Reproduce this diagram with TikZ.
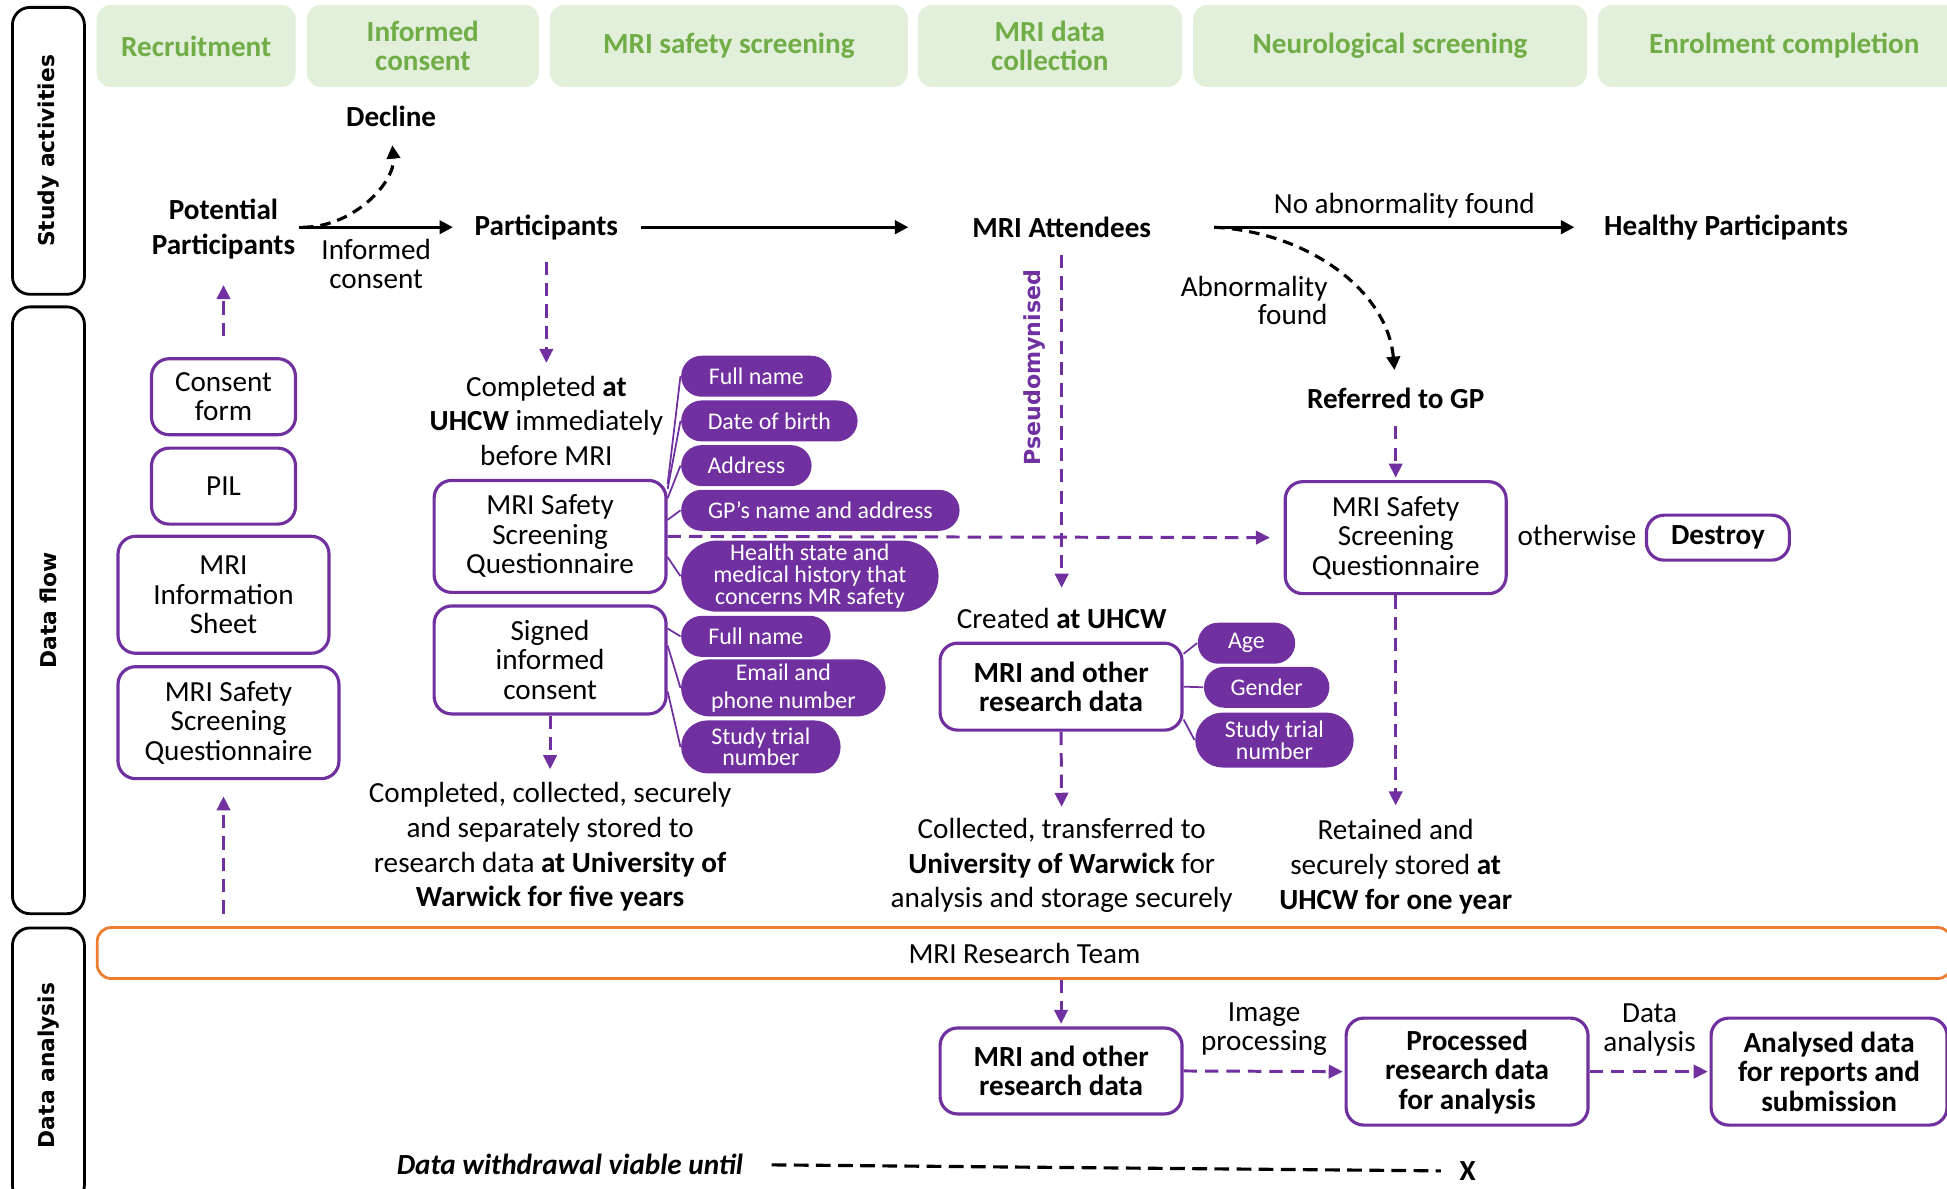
\documentclass[tikz,border=0pt]{standalone}
\usepackage{fontspec}
\setmainfont{Carlito}
\newfontfamily\sidefont{DejaVu Sans}
\usepackage{tikz}
\usetikzlibrary{arrows.meta,positioning,shapes.misc}
\usepackage{xcolor}
\definecolor{mripurple}{HTML}{7030A0}
\definecolor{stagegreen}{HTML}{70AD47}
\definecolor{stagefill}{HTML}{E2EFDA}
\definecolor{teamorange}{HTML}{ED7D31}

\begin{document}
\begin{tikzpicture}[x=0.012417cm, y=-0.012417cm,
    sidebox/.style={draw=black, line width=0.8pt, rounded corners=5pt, rotate=90, minimum height=0.72cm, font=\sidefont\bfseries\fontsize{6.2}{7}\selectfont},
    stagebox/.style={fill=stagefill, rounded corners=4pt, align=center, text=stagegreen, font=\bfseries\fontsize{8.3}{8.2}\selectfont, minimum height=0.82cm},
    stage/.style={align=center, inner sep=1pt, font=\bfseries\fontsize{8.3}{9.9}\selectfont},
    note/.style={align=center, inner sep=1pt, font=\fontsize{8.3}{9.9}\selectfont},
    smallnote/.style={align=center, inner sep=1pt, font=\fontsize{8.3}{8.2}\selectfont},
    docbox/.style={draw=mripurple, line width=0.9pt, rounded corners=5pt, fill=white, align=center, inner sep=1pt, font=\fontsize{8.3}{8.4}\selectfont},
    databox/.style={docbox, font=\bfseries\fontsize{8.3}{8.4}\selectfont},
    pill/.style={rounded rectangle, fill=mripurple, text=white, anchor=west, align=center, inner sep=1pt, minimum height=0.41cm, font=\fontsize{6.8}{6.2}\selectfont},
    teambar/.style={draw=teamorange, line width=0.8pt, rounded corners=4pt, minimum width=18.55cm, minimum height=0.51cm, font=\fontsize{8.3}{9.9}\selectfont},
    flow/.style={-{Triangle[length=3.8pt,width=3.8pt]}, line width=0.9pt, black},
    purplink/.style={draw=mripurple, line width=0.85pt, dash pattern=on 3.8pt off 2.3pt, -{Triangle[length=4pt,width=3.8pt]}},
    pillink/.style={draw=mripurple, line width=0.5pt}
  ]
    \useasboundingbox (0,0) rectangle (1568,957);

    \node[sidebox, minimum width=2.87cm] (sideact) at (39,121.5) {Study activities};
    \node[sidebox, minimum width=6.07cm] (sideflow) at (39,491.5) {Data flow};
    \node[sidebox, minimum width=2.75cm] (sideana) at (39,858) {Data analysis};

    \node[stagebox, minimum width=1.99cm] (recruit) at (158,37) {Recruitment};
    \node[stagebox, minimum width=2.32cm] (consent) at (340.5,37) {Informed\\consent};
    \node[stagebox, minimum width=3.58cm] (safety) at (587,37) {MRI safety screening};
    \node[stagebox, minimum width=2.64cm] (collect) at (845.5,37) {MRI data\\collection};
    \node[stagebox, minimum width=3.94cm] (neuro) at (1119.5,37) {Neurological screening};
    \node[stagebox, minimum width=3.73cm] (enrol) at (1437,37) {Enrolment completion};

    \node[stage] (decline) at (315,94) {Decline};
    \node[stage] (potential) at (180,184.5) {Potential\\Participants};
    \node[stage] (participants) at (440,183) {Participants};
    \node[stage] (attendees) at (855,183) {MRI Attendees};
    \node[stage] (healthy) at (1390,183) {Healthy Participants};
    \node[stage] (referred) at (1124,321) {Referred to GP};
    \node[smallnote, align=right] (abnormal) at (1010,242) {Abnormality\\found};

    \draw[flow, shorten >=5pt] (potential.east |- participants.west) -- node[smallnote, below=2pt, xshift=-2.5pt]{Informed\\consent} (participants.west);
    \draw[flow, shorten <=5.3pt, shorten >=17pt] (participants.east) -- (attendees.west);
    \draw[flow, shorten <=16.8pt, shorten >=7.3pt] (attendees.east) -- node[note, pos=0.56, above=1pt]{No abnormality found} (healthy.west);
    \draw[flow, dash pattern=on 3pt off 2pt, shorten >=4pt] ([xshift=1pt]potential.east |- participants.west) to[out=0, in=-85] (decline.south);
    \draw[flow, dash pattern=on 3pt off 2pt, shorten >=4pt] ([xshift=16.8pt]attendees.east) to[out=-3, in=95] (referred.north);

    \node[docbox, minimum width=1.44cm, minimum height=0.76cm] (consentform) at (180,319.5) {Consent\\form};
    \node[docbox, minimum width=1.44cm, minimum height=0.76cm] (pil) at (180,391.5) {PIL};
    \node[docbox, minimum width=2.11cm, minimum height=1.17cm] (infosheet) at (180,479) {MRI\\Information\\Sheet};
    \node[docbox, minimum width=2.21cm, minimum height=1.12cm] (lssq) at (184,582) {MRI Safety\\Screening\\Questionnaire};
    \draw[purplink, shorten <=6pt, shorten >=6.2pt] (consentform.north) -- (potential.south);

    \node[note] (uhcwnote) at (440,339) {Completed \textbf{at}\\\textbf{UHCW} immediately\\before MRI};
    \node[docbox, minimum width=2.32cm, minimum height=1.12cm] (mssq) at (443,432) {MRI Safety\\Screening\\Questionnaire};
    \node[docbox, minimum width=2.32cm, minimum height=1.08cm] (consentsign) at (443,531.5) {Signed\\informed\\consent};
    \node[note] (storenote1) at (443,682) {Completed, collected, securely\\and separately stored to\\research data \textbf{at University of}\\\textbf{Warwick for five years}};
    \draw[purplink, shorten <=5pt, shorten >=2.5pt] (participants.south) -- (uhcwnote.north);
    \draw[purplink, shorten >=2.5pt] (consentsign.south) -- (storenote1.north);

    \node[pill, minimum width=1.575cm] (name1) at (548,303) {Full name};
    \node[pill, minimum width=1.835cm] (birth) at (548,339) {Date of birth};
    \node[pill, minimum width=1.375cm] (address) at (548,375) {Address};
    \node[pill, minimum width=2.855cm] (gpname) at (548,411) {GP’s name and address};
    \node[pill, minimum width=2.645cm, minimum height=0.67cm] (health) at (548,464) {Health state and\\medical history that\\concerns MR safety};
    \node[pill, minimum width=1.565cm] (name2) at (548,512.5) {Full name};
    \node[pill, minimum width=2.115cm, minimum height=0.57cm, font=\fontsize{6.8}{8.1}\selectfont] (contact) at (548,554) {Email and\\phone number};
    \node[pill, minimum width=1.665cm, minimum height=0.53cm] (trial1) at (548,601.5) {Study trial\\number};
    \draw[pillink] (mssq.24) -- (name1.west);
    \draw[pillink] (mssq.22) -- (birth.west);
    \draw[pillink] (mssq.18) -- (address.west);
    \draw[pillink] (mssq.8) -- (gpname.west);
    \draw[pillink] (mssq.-10) -- (health.west);
    \draw[pillink] (consentsign.15) -- (name2.west);
    \draw[pillink] (consentsign.7) -- (contact.west);
    \draw[pillink] (consentsign.-15) -- (trial1.west);

    \node[font=\sidefont\bfseries\fontsize{6.3}{7}\selectfont, text=mripurple, rotate=90] (pseudo) at (833,296) {Pseudomynised};
    \node[note] (created) at (855,498) {Created \textbf{at UHCW}};
    \node[databox, minimum width=2.42cm, minimum height=0.87cm] (mdata) at (854.5,553) {MRI and other\\research data};
    \node[note] (storenote2) at (855,697) {Collected, transferred to\\\textbf{University of Warwick} for\\analysis and storage securely};
    \draw[purplink, shorten <=3.7pt, shorten >=4.6pt] (attendees.south) -- (created.north);
    \draw[purplink, shorten >=2pt] (mdata.south) -- (storenote2.north);

    \node[pill, minimum width=1.045cm] (age) at (964,518) {Age};
    \node[pill, minimum width=1.325cm] (gender) at (969,553.5) {Gender};
    \node[pill, minimum width=1.655cm, minimum height=0.55cm] (trial2) at (962,596) {Study trial\\number};
    \draw[pillink] (mdata.15) -- (age.west);
    \draw[pillink] (mdata.east) -- (gender.west);
    \draw[pillink] (mdata.-15) -- (trial2.west);

    \node[docbox, minimum width=2.21cm, minimum height=1.12cm] (rssq) at (1124,433) {MRI Safety\\Screening\\Questionnaire};
    \node[note] (otherwise) at (1270,431) {otherwise};
    \node[databox, minimum width=1.43cm, minimum height=0.45cm] (destroy) at (1383.5,433) {Destroy};
    \node[note] (storenote3) at (1124,698) {Retained and\\securely stored \textbf{at}\\\textbf{UHCW for one year}};
    \draw[purplink, shorten <=3.7pt, shorten >=0.7pt] (referred.south) -- (rssq.north);
    \draw[purplink, shorten >=3.9pt] (mssq.east) -- (rssq.west);
    \draw[purplink, shorten >=2.8pt] (rssq.south) -- (storenote3.north);

    \node[teambar] (team) at (825,767.5) {MRI Research Team};
    \draw[purplink, shorten <=3.5pt, shorten >=4.6pt] (potential |- team.north) -- (potential |- lssq.south);
    \node[databox, minimum width=2.42cm, minimum height=0.86cm] (mdata2) at (854.5,862.5) {MRI and other\\research data};
    \node[databox, minimum width=2.42cm, minimum height=1.07cm] (processed) at (1181.5,863) {Processed\\research data\\for analysis};
    \node[databox, minimum width=2.36cm, minimum height=1.07cm] (analysed) at (1473,863) {Analysed data\\for reports and\\submission};
    \draw[purplink, shorten >=0.7pt] (mdata2 |- team.south) -- (mdata2.north);
    \draw[purplink, shorten >=0.5pt] (mdata2.east) -- node[smallnote, above=3pt]{Image\\processing} (processed.west);
    \draw[purplink, shorten >=0.5pt] (processed.east) -- node[smallnote, above=3pt]{Data\\analysis} (analysed.west);

    \node[font=\bfseries\itshape\fontsize{8.3}{9.9}\selectfont] (withdraw) at (459,938) {Data withdrawal viable until};
    \node[font=\bfseries\fontsize{8.3}{9.9}\selectfont] (xmark) at (1182,943) {X};
    \draw[line width=0.9pt, dash pattern=on 4.2pt off 2.1pt, shorten <=4.6pt, shorten >=1.8pt] (withdraw.east) -- (xmark.west);
  \end{tikzpicture}
\end{document}
